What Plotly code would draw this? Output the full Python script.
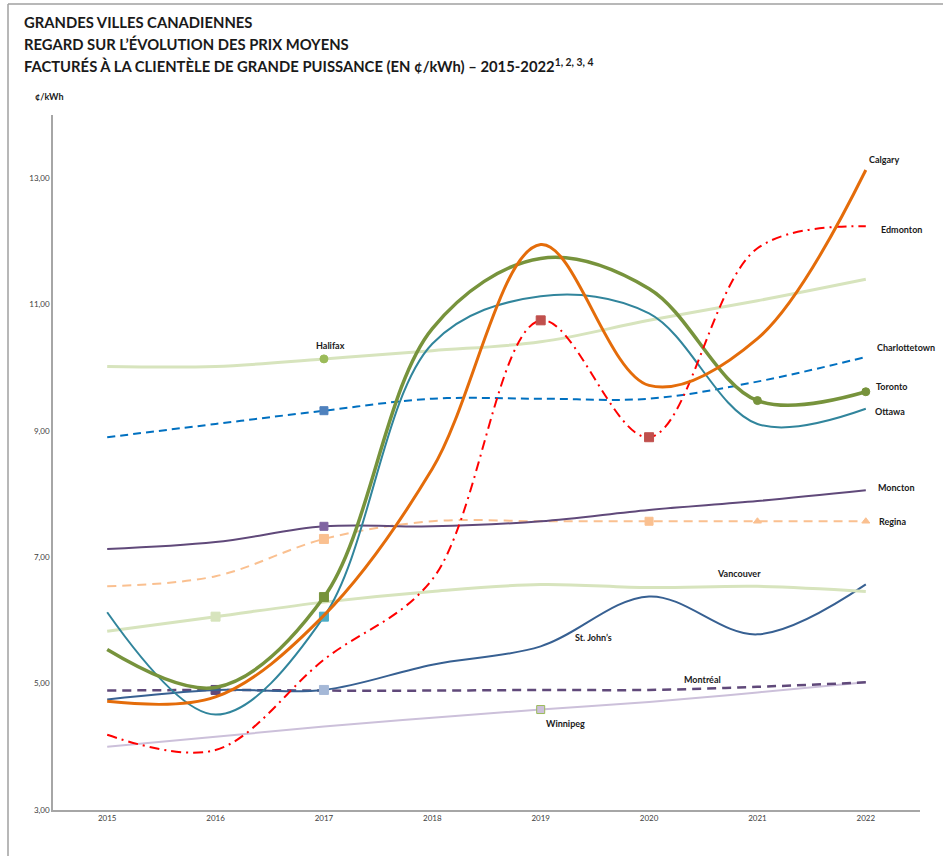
import plotly.graph_objects as go

years = [2015, 2016, 2017, 2018, 2019, 2020, 2021, 2022]
year_labels = ["2015", "2016", "2017", "2018", "2019", "2020", "2021", "2022"]
y_ticks = [3, 5, 7, 9, 11, 13]
y_tick_labels = ["3,00", "5,00", "7,00", "9,00", "11,00", "13,00"]

calgary = [4.72, 4.79, 6.08, 8.40, 11.95, 9.72, 10.46, 13.13]
edmonton = [4.19, 3.95, 5.38, 6.65, 10.75, 8.90, 11.89, 12.24]
toronto = [5.54, 4.94, 6.37, 10.62, 11.73, 11.25, 9.48, 9.62]
ottawa = [6.13, 4.51, 6.06, 10.38, 11.13, 10.86, 9.11, 9.35]
halifax = [10.02, 10.02, 10.14, 10.27, 10.41, 10.75, 11.06, 11.40]
charlottetown = [8.90, 9.11, 9.32, 9.51, 9.51, 9.51, 9.78, 10.17]
moncton = [7.13, 7.24, 7.49, 7.49, 7.57, 7.75, 7.89, 8.06]
regina = [6.54, 6.70, 7.29, 7.57, 7.57, 7.57, 7.57, 7.57]
vancouver = [5.83, 6.06, 6.29, 6.46, 6.57, 6.52, 6.54, 6.46]
st_johns = [4.75, 4.90, 4.90, 5.30, 5.59, 6.38, 5.78, 6.57]
montreal = [4.89, 4.90, 4.89, 4.89, 4.90, 4.90, 4.95, 5.02]
winnipeg = [4.00, 4.16, 4.32, 4.46, 4.59, 4.71, 4.86, 5.02]

fig = go.Figure()


def add_series(name, vals, color, width, dash="solid", markers=None):
    # markers: dict index -> (symbol, size, fill, line_color)
    sizes, symbols, fills, lcols = [], [], [], []
    for i in range(len(vals)):
        if markers and i in markers:
            sym, sz, fill, lc = markers[i]
        else:
            sym, sz, fill, lc = "square", 0, color, color
        sizes.append(sz)
        symbols.append(sym)
        fills.append(fill)
        lcols.append(lc)
    fig.add_trace(go.Scatter(
        x=years, y=vals, name=name,
        mode="lines+markers" if markers else "lines",
        line=dict(color=color, width=width, dash=dash, shape="spline", smoothing=1.0),
        marker=dict(size=sizes, symbol=symbols, color=fills,
                    line=dict(color=lcols, width=1), opacity=1),
        showlegend=False, hoverinfo="skip",
    ))


add_series("Winnipeg", winnipeg, "#CCC0DA", 2,
           markers={4: ("square", 8, "#CCC0DA", "#9BBB59")})
add_series("Montréal", montreal, "#60497A", 2.5, dash="9px,6px",
           markers={1: ("square", 9, "#60497A", "#60497A")})
add_series("St. John's", st_johns, "#376092", 2,
           markers={2: ("square", 9, "#A5B8D7", "#A5B8D7")})
add_series("Vancouver", vancouver, "#D7E4BD", 3,
           markers={1: ("square", 9, "#D7E4BD", "#D7E4BD")})
add_series("Regina", regina, "#FAC090", 2, dash="9px,6px",
           markers={2: ("square", 9, "#FAC090", "#FAC090"),
                    5: ("square", 8, "#FAC090", "#FAC090"),
                    6: ("triangle-up", 7, "#FAC090", "#FAC090"),
                    7: ("triangle-up", 7, "#FAC090", "#FAC090")})
add_series("Moncton", moncton, "#60497A", 2,
           markers={2: ("square", 8, "#8064A2", "#8064A2")})
add_series("Charlottetown", charlottetown, "#0070C0", 2, dash="8px,5px",
           markers={2: ("square", 8, "#4F81BD", "#4F81BD")})
add_series("Halifax", halifax, "#D7E4BD", 3,
           markers={2: ("circle", 8, "#9BBB59", "#9BBB59")})
add_series("Ottawa", ottawa, "#31859C", 2,
           markers={2: ("square", 9, "#4BACC6", "#4BACC6")})
add_series("Toronto", toronto, "#77933C", 3.5,
           markers={2: ("square", 9, "#77933C", "#77933C"),
                    6: ("circle", 8, "#77933C", "#77933C"),
                    7: ("circle", 8, "#77933C", "#77933C")})
add_series("Edmonton", edmonton, "#FF0000", 2, dash="10px,5px,2px,5px",
           markers={4: ("square", 9, "#C0504D", "#C0504D"),
                    5: ("square", 9, "#C0504D", "#C0504D")})
add_series("Calgary", calgary, "#E46C0A", 3)

label_font = dict(family="Lato", size=9, color="#1a1a1a")
labels = [
    ("<b>Calgary</b>", 2022.17, 13.29),
    ("<b>Edmonton</b>", 2022.33, 12.19),
    ("<b>Charlottetown</b>", 2022.37, 10.32),
    ("<b>Toronto</b>", 2022.24, 9.71),
    ("<b>Ottawa</b>", 2022.22, 9.30),
    ("<b>Moncton</b>", 2022.28, 8.11),
    ("<b>Regina</b>", 2022.25, 7.56),
    ("<b>Vancouver</b>", 2020.83, 6.75),
    ("<b>St. John’s</b>", 2019.49, 5.73),
    ("<b>Montréal</b>", 2020.49, 5.06),
    ("<b>Winnipeg</b>", 2019.23, 4.37),
    ("<b>Halifax</b>", 2017.06, 10.35),
]
annotations = []
for txt, x, y in labels:
    annotations.append(dict(text=txt, x=x, y=y, xref="x", yref="y",
                            showarrow=False, font=label_font,
                            xanchor="center", yanchor="middle"))

title_font = dict(family="Lato", size=14.8, color="#1a1a1a")
title_lines = [
    ("<b>GRANDES VILLES CANADIENNES</b>", 22),
    ("<b>REGARD SUR L’ÉVOLUTION DES PRIX MOYENS</b>", 44),
    ("<b>FACTURÉS À LA CLIENTÈLE DE GRANDE PUISSANCE (EN ¢/kWh) – 2015-2022<sup>1, 2, 3, 4</sup></b>", 66),
]
L, R, T, B = 53, 23, 115, 46
PW, PH = 943 - L - R, 856 - T - B


def px2paper_x(px):
    return (px - L) / PW


def px2paper_y(py):
    return (856 - B - py) / PH


for txt, py in title_lines:
    annotations.append(dict(text=txt, x=px2paper_x(22), y=px2paper_y(py),
                            xref="paper", yref="paper", showarrow=False,
                            xanchor="left", yanchor="middle", font=title_font))
annotations.append(dict(text="<b>¢/kWh</b>", x=px2paper_x(33), y=px2paper_y(97),
                        xref="paper", yref="paper", showarrow=False,
                        xanchor="left", yanchor="middle",
                        font=dict(family="Lato", size=9, color="#1a1a1a")))

shapes = [
    dict(type="line", xref="paper", yref="paper",
         x0=px2paper_x(8), x1=px2paper_x(8), y0=px2paper_y(4), y1=px2paper_y(856),
         line=dict(color="#A0A0A0", width=1.5)),
    dict(type="line", xref="paper", yref="paper",
         x0=px2paper_x(8), x1=px2paper_x(943), y0=px2paper_y(4), y1=px2paper_y(4),
         line=dict(color="#A0A0A0", width=1.5)),
]

fig.update_layout(
    width=943, height=856,
    margin=dict(l=L, r=R, t=T, b=B),
    paper_bgcolor="white", plot_bgcolor="white",
    annotations=annotations, shapes=shapes,
    xaxis=dict(range=[2014.5, 2022.5], tickvals=years, ticktext=year_labels,
               showgrid=False, zeroline=False, showline=True,
               linecolor="#A6A6A6", linewidth=1.5, ticks="",
               tickfont=dict(family="Lato", size=8, color="#404040")),
    yaxis=dict(range=[3, 14], tickvals=y_ticks, ticktext=y_tick_labels,
               showgrid=False, zeroline=False, showline=True,
               linecolor="#A6A6A6", linewidth=1.5, ticks="",
               tickfont=dict(family="Lato", size=8, color="#404040")),
)

fig.write_html("out.html", config={"displayModeBar": False},
               post_script="document.body.style.margin='0';document.body.style.overflow='hidden';")
